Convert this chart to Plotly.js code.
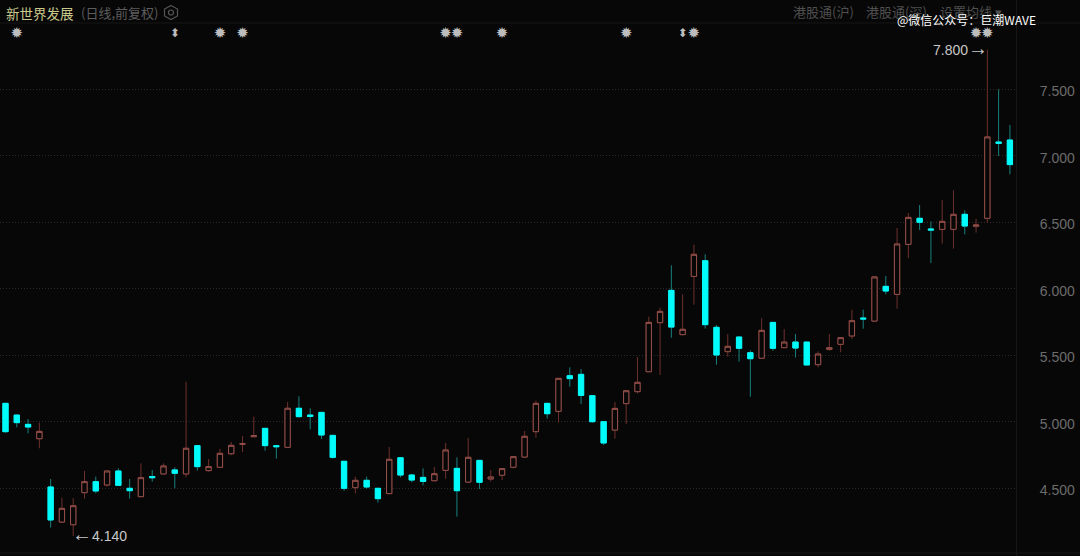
<!DOCTYPE html>
<html>
<head>
<meta charset="utf-8">
<script src="https://cdn.plot.ly/plotly-3.0.1.min.js"></script>
<style>html,body{margin:0;padding:0;background:#070707;}#chart{width:1080px;height:556px;}</style>
</head>
<body>
<div id="chart"></div>
<script>
const open_ = [5.139,5.051,4.981,4.873,4.510,4.246,4.226,4.467,4.550,4.525,4.630,4.500,4.437,4.588,4.608,4.638,4.608,4.821,4.633,4.658,4.760,4.831,4.888,4.951,4.821,4.808,5.102,5.051,5.071,4.898,4.703,4.505,4.560,4.500,4.460,4.730,4.600,4.582,4.557,4.635,4.650,4.547,4.710,4.570,4.598,4.658,4.735,4.926,5.139,5.079,5.347,5.357,5.197,5.001,4.938,5.137,5.227,5.377,5.746,5.989,5.656,6.094,6.212,5.711,5.528,5.638,5.520,5.478,5.748,5.558,5.600,5.600,5.430,5.545,5.583,5.646,5.781,5.758,6.019,5.959,6.335,6.531,6.451,6.448,6.448,6.561,6.471,6.531,7.105,7.120];
const high = [5.139,5.051,5.021,4.994,4.570,4.430,4.427,4.630,4.588,4.630,4.650,4.570,4.688,4.638,4.688,4.658,5.302,4.821,4.720,4.796,4.848,4.893,5.039,4.951,4.821,5.149,5.192,5.102,5.071,4.898,4.703,4.588,4.588,4.500,4.811,4.730,4.608,4.650,4.660,4.841,4.733,4.878,4.710,4.638,4.648,4.738,4.931,5.159,5.139,5.327,5.410,5.397,5.197,5.001,5.149,5.234,5.488,5.791,5.859,6.177,5.959,6.333,6.260,5.728,5.661,5.638,5.538,5.779,5.748,5.698,5.661,5.600,5.530,5.661,5.638,5.844,5.844,6.095,6.097,6.458,6.571,6.631,6.508,6.669,6.741,6.591,6.528,7.800,7.501,7.233];
const low = [4.918,4.959,4.913,4.801,4.204,4.246,4.140,4.422,4.462,4.512,4.522,4.422,4.437,4.550,4.603,4.500,4.582,4.633,4.625,4.655,4.748,4.773,4.888,4.783,4.723,4.808,5.034,4.944,4.871,4.723,4.482,4.462,4.497,4.392,4.460,4.582,4.545,4.522,4.552,4.572,4.287,4.545,4.495,4.550,4.562,4.650,4.733,4.881,5.024,4.994,5.264,5.134,4.994,4.826,4.873,4.984,5.214,5.375,5.352,5.633,5.656,5.881,5.701,5.430,5.490,5.453,5.189,5.475,5.535,5.555,5.483,5.425,5.410,5.535,5.523,5.623,5.701,5.758,5.959,5.851,6.232,6.443,6.195,6.340,6.303,6.410,6.423,6.498,7.000,6.862];
const close_ = [4.926,4.994,4.961,4.928,4.262,4.349,4.369,4.550,4.480,4.630,4.522,4.482,4.580,4.580,4.668,4.613,4.801,4.663,4.663,4.763,4.823,4.836,4.896,4.821,4.813,5.102,5.039,5.041,4.901,4.733,4.500,4.560,4.510,4.422,4.718,4.600,4.562,4.552,4.610,4.788,4.482,4.733,4.545,4.585,4.648,4.738,4.891,5.139,5.061,5.327,5.325,5.199,5.001,4.841,5.101,5.234,5.297,5.748,5.831,5.713,5.696,6.260,5.731,5.503,5.568,5.553,5.475,5.688,5.553,5.600,5.555,5.428,5.510,5.558,5.633,5.761,5.774,6.090,5.984,6.338,6.538,6.501,6.443,6.508,6.561,6.473,6.481,7.143,7.095,6.935];
const session = open_.map((_, i) => i);
const priceTicks = [4.5, 5.0, 5.5, 6.0, 6.5, 7.0, 7.5];
const priceLabels = ['4.500', '5.000', '5.500', '6.000', '6.500', '7.000', '7.500'];
const starSessions = [1, 19, 21, 39, 40, 44, 55, 61, 86, 87];
const arrowSessions = [15, 60];

const BG = '#070707';
const W = 1016, H = 556;
const px = x => x / W, py = y => 1 - y / H;
const bodyTop = session.map(i => Math.max(open_[i], close_[i]));
const bodyBot = session.map(i => Math.min(open_[i], close_[i]));
const markerY = 7.918;

const traces = [
  { type: 'candlestick', x: session, open: open_, high: high, low: low, close: close_,
    increasing: { line: { color: '#6e302d', width: 1 }, fillcolor: BG },
    decreasing: { line: { color: '#17807f', width: 1 }, fillcolor: '#00fbfb' },
    whiskerwidth: 0, hoverinfo: 'skip', showlegend: false },
  { type: 'candlestick', x: session, open: open_, close: close_, high: bodyTop, low: bodyBot,
    increasing: { line: { color: '#96504b', width: 1 }, fillcolor: BG },
    decreasing: { line: { color: '#00fbfb', width: 1 }, fillcolor: '#00fbfb' },
    whiskerwidth: 0, hoverinfo: 'skip', showlegend: false },
  { type: 'scatter', mode: 'text', x: starSessions, y: starSessions.map(() => markerY),
    text: starSessions.map(() => '✹'), textposition: 'middle center',
    textfont: { family: 'DejaVu Sans', size: 15, color: '#bdbdbd' }, hoverinfo: 'skip', showlegend: false },
  { type: 'scatter', mode: 'text', x: arrowSessions, y: arrowSessions.map(() => markerY),
    text: arrowSessions.map(() => '⬍'), textposition: 'middle center',
    textfont: { family: 'DejaVu Sans', size: 12, color: '#bdbdbd' }, hoverinfo: 'skip', showlegend: false }
];

const cjk = '"Noto Sans CJK SC", "Noto Sans", sans-serif';
const txt = (x, y, text, size, color, anchor, family) => ({
  xref: 'paper', yref: 'paper', x: px(x), y: py(y), text, showarrow: false,
  xanchor: anchor || 'left', yanchor: 'middle',
  font: { family: family || cjk, size, color }
});
const bigArrow = g => `<span style="font-size:20px">${g}</span>`;

const layout = {
  width: 1080, height: 556,
  margin: { l: 0, r: 64, t: 0, b: 0, pad: 0 },
  paper_bgcolor: BG, plot_bgcolor: BG,
  showlegend: false, boxmode: 'overlay', boxgap: 0.33,
  xaxis: { type: 'linear', range: [-0.487, 89.54], visible: false, rangeslider: { visible: false }, fixedrange: true },
  yaxis: {
    side: 'right', range: [3.9907, 8.1733], tickmode: 'array', tickvals: priceTicks, ticktext: priceLabels,
    showgrid: true, gridcolor: '#2a2a2a', griddash: '1px,2px', gridwidth: 1, zeroline: false, showline: false,
    ticks: 'outside', ticklen: 20, tickcolor: 'rgba(0,0,0,0)', ticklabelshift: 2,
    tickfont: { family: 'Liberation Sans', size: 14, color: '#6c6c6c' }, automargin: false, fixedrange: true
  },
  shapes: [
    { type: 'line', xref: 'paper', yref: 'paper', x0: 0, x1: px(1080), y0: py(23), y1: py(23), line: { color: '#161616', width: 1 } },
    { type: 'line', xref: 'paper', yref: 'paper', x0: 0, x1: px(1080), y0: py(553), y1: py(553), line: { color: '#161616', width: 1 } },
    { type: 'line', xref: 'paper', yref: 'paper', x0: px(1016.5), x1: px(1016.5), y0: 0, y1: 1, line: { color: '#161616', width: 1 } },
    { type: 'path', xref: 'paper', yref: 'paper', line: { color: '#555555', width: 1.2 },
      path: `M ${px(171)} ${py(5.5)} L ${px(177.5)} ${py(9)} L ${px(177.5)} ${py(16)} L ${px(171)} ${py(19.5)} L ${px(164.5)} ${py(16)} L ${px(164.5)} ${py(9)} Z` },
    { type: 'circle', xref: 'paper', yref: 'paper', x0: px(168.5), x1: px(173.5), y0: py(15), y1: py(10), line: { color: '#555555', width: 1.2 } }
  ],
  annotations: [
    txt(4, 13, '新世界发展', 13.5, '#c9c98c'),
    txt(79, 13, '(日线,前复权)', 13, '#5c5c5c'),
    txt(791, 12, '港股通(沪)', 13, '#4f4f4f'),
    txt(864, 12, '港股通(深)', 13, '#4f4f4f'),
    txt(938, 12, '设置均线 ▾', 13, '#4f4f4f'),
    txt(895, 19, '@微信公众号：巨潮WAVE', 12, '#ffffff'),
    { xref: 'x', yref: 'y', x: 87, y: 7.8, text: '7.800' + bigArrow('→'), showarrow: false, xanchor: 'right', yanchor: 'middle', xshift: 3, yshift: 2,
      font: { family: 'Liberation Sans, DejaVu Sans', size: 14, color: '#c8c8c8' } },
    { xref: 'x', yref: 'y', x: 6, y: 4.14, text: bigArrow('←') + '4.140', showarrow: false, xanchor: 'left', yanchor: 'middle', xshift: -3, yshift: 2,
      font: { family: 'Liberation Sans, DejaVu Sans', size: 14, color: '#c8c8c8' } }
  ]
};

Plotly.newPlot('chart', traces, layout, { displayModeBar: false, staticPlot: true });
</script>
</body>
</html>
